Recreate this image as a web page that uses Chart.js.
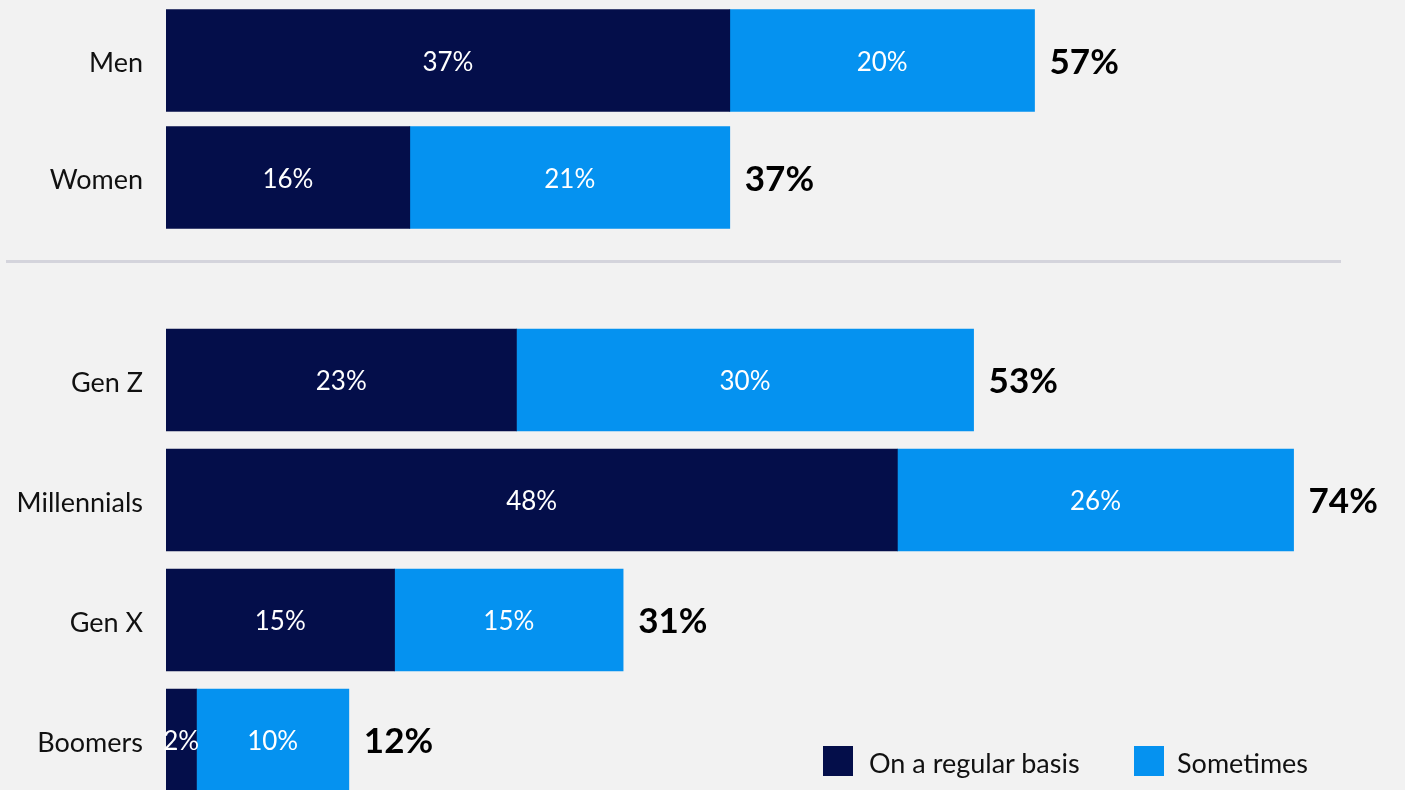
<!DOCTYPE html>
<html>
<head>
<meta charset="utf-8">
<script src="https://cdn.jsdelivr.net/npm/chart.js@4"></script>
<style>
  html, body { margin: 0; padding: 0; background: #f2f2f2; }
  #wrap { position: relative; width: 1405px; height: 790px; overflow: hidden; background: #f2f2f2; font-family: Lato, "Open Sans", sans-serif; }
  #topBox { position: absolute; left: 0; top: 0; width: 1405px; height: 236px; }
  #bottomBox { position: absolute; left: 0; top: 320px; width: 1405px; height: 480px; }
  .sep { position: absolute; left: 6px; top: 260px; width: 1335px; height: 3px; background: #d4d4dc; }
  .sw { position: absolute; top: 746px; width: 30px; height: 30px; }
  .lt { position: absolute; top: 746px; height: 30px; line-height: 34px; font-size: 27px; color: #111; white-space: nowrap; }
</style>
</head>
<body>
<div id="wrap">
  <div id="topBox"><canvas id="topChart"></canvas></div>
  <div class="sep"></div>
  <div id="bottomBox"><canvas id="bottomChart"></canvas></div>
  <div class="sw" style="left:823px; background:#040e4a"></div>
  <div class="lt" style="left:869px">On a regular basis</div>
  <div class="sw" style="left:1134px; background:#0592f0"></div>
  <div class="lt" style="left:1177px">Sometimes</div>
</div>
<script>
// Gender split
const genderLabels = ['Men', 'Women'];
const genderRegular = [37, 16];
const genderSometimes = [20, 21];
const genderTotals = [57, 37];

// Generation split
const genLabels = ['Gen Z', 'Millennials', 'Gen X', 'Boomers'];
const genRegular = [23, 48, 15, 2];
const genSometimes = [30, 26, 15, 10];
const genTotals = [53, 74, 31, 12];

const seriesNames = ['On a regular basis', 'Sometimes'];
const NAVY = '#040e4a';
const BLUE = '#0592f0';
const FONT = 'Lato, "Open Sans", sans-serif';

// writes the segment values inside the bars and the total after each bar
const barText = {
  id: 'barText',
  afterDatasetsDraw(chart, args, opts) {
    const ctx = chart.ctx;
    const metas = chart.data.datasets.map((d, i) => chart.getDatasetMeta(i));
    ctx.save();
    ctx.textBaseline = 'middle';
    metas.forEach((meta, di) => {
      meta.data.forEach((bar, i) => {
        const v = chart.data.datasets[di].data[i];
        ctx.fillStyle = '#ffffff';
        ctx.font = '26px ' + FONT;
        ctx.textAlign = 'center';
        ctx.fillText(v + '%', (bar.x + bar.base) / 2, bar.y + 2);
      });
    });
    const last = metas[metas.length - 1];
    last.data.forEach((bar, i) => {
      ctx.fillStyle = '#000000';
      ctx.font = 'bold 35px ' + FONT;
      ctx.textAlign = 'left';
      ctx.fillText(opts.totals[i] + '%', bar.x + 15, bar.y + 2);
    });
    ctx.restore();
  }
};

function makeChart(id, labels, regular, sometimes, totals, padTop) {
  return new Chart(document.getElementById(id), {
    type: 'bar',
    data: {
      labels: labels,
      datasets: [
        { label: seriesNames[0], data: regular, backgroundColor: NAVY, barThickness: 102 },
        { label: seriesNames[1], data: sometimes, backgroundColor: BLUE, barThickness: 102 }
      ]
    },
    options: {
      indexAxis: 'y',
      responsive: true,
      maintainAspectRatio: false,
      animation: false,
      layout: { padding: { top: padTop, right: 20, bottom: 0, left: 0 } },
      scales: {
        x: { stacked: true, min: 0, max: 80, display: false },
        y: {
          stacked: true,
          grid: { display: false, drawTicks: false },
          border: { display: false },
          ticks: { color: '#111', padding: 23, labelOffset: 3, font: { family: FONT, size: 27 } },
          afterFit: (axis) => {
            axis.width = 166;
            axis.paddingTop = 0;
            axis.paddingBottom = 0;
          }
        }
      },
      plugins: { legend: { display: false }, tooltip: { enabled: false }, barText: { totals: totals } }
    },
    plugins: [barText]
  });
}

makeChart('topChart', genderLabels, genderRegular, genderSometimes, genderTotals, 2);
makeChart('bottomChart', genLabels, genRegular, genSometimes, genTotals, 0);
</script>
</body>
</html>
